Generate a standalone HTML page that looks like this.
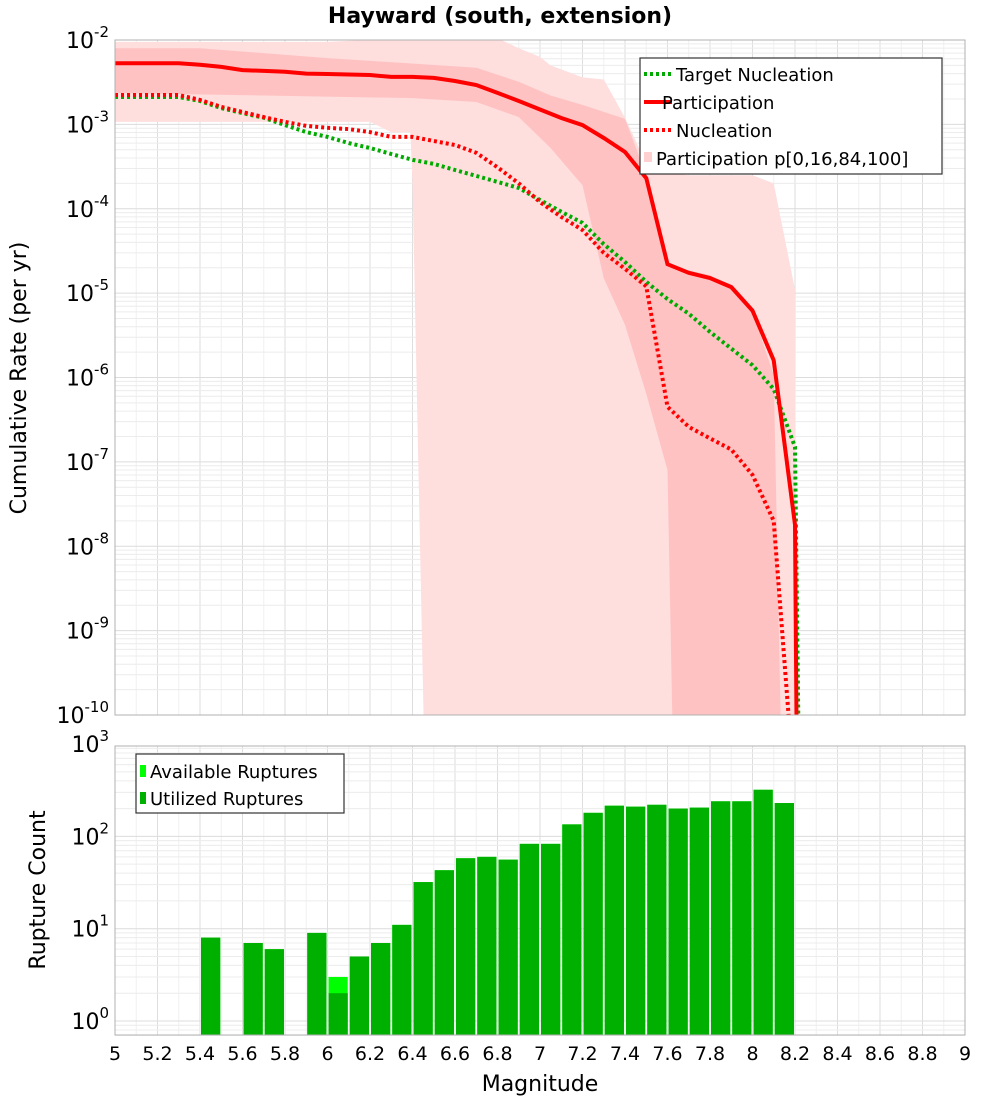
<!DOCTYPE html>
<html><head><meta charset="utf-8"><style>
body{margin:0;background:#fff;}
svg{display:block;font-family:"DejaVu Sans","Liberation Sans",sans-serif;}
</style></head><body>
<svg id="c" width="1000" height="1100" viewBox="0 0 1000 1100"></svg>
<script>
// ---- data ----
const mags = [5.0,5.1,5.2,5.3,5.4,5.5,5.6,5.7,5.8,5.9,6.0,6.1,6.2,6.3,6.4,6.5,6.6,6.7,6.8,6.9,7.0,7.1,7.2,7.3,7.4,7.5,7.6,7.7,7.8,7.9,8.0,8.1,8.2,8.21];
const participation = [5.3e-3,5.3e-3,5.3e-3,5.3e-3,5.1e-3,4.8e-3,4.4e-3,4.3e-3,4.2e-3,4.0e-3,3.95e-3,3.9e-3,3.85e-3,3.65e-3,3.65e-3,3.55e-3,3.27e-3,2.93e-3,2.36e-3,1.89e-3,1.5e-3,1.19e-3,9.8e-4,6.9e-4,4.7e-4,2.3e-4,2.2e-5,1.74e-5,1.51e-5,1.18e-5,6.2e-6,1.6e-6,1.8e-8,1e-11];
const nucMags = [5.0,5.1,5.2,5.3,5.4,5.5,5.6,5.7,5.8,5.9,6.0,6.1,6.2,6.3,6.4,6.5,6.6,6.7,6.8,6.9,7.0,7.1,7.2,7.3,7.4,7.5,7.6,7.7,7.8,7.9,8.0,8.1,8.2];
const nucleation = [2.23e-3,2.23e-3,2.23e-3,2.23e-3,1.95e-3,1.61e-3,1.4e-3,1.22e-3,1.07e-3,9.6e-4,9.1e-4,8.8e-4,8.1e-4,7.1e-4,7.1e-4,6.35e-4,5.7e-4,4.6e-4,3.1e-4,2.0e-4,1.2e-4,8.0e-5,5.6e-5,3.0e-5,1.94e-5,1.2e-5,4.5e-7,2.6e-7,1.9e-7,1.4e-7,7e-8,2e-8,1e-11];
const targetMags = [5.0,5.1,5.2,5.3,5.4,5.5,5.6,5.7,5.8,5.9,6.0,6.1,6.2,6.3,6.4,6.5,6.6,6.7,6.8,6.9,7.0,7.1,7.2,7.3,7.4,7.5,7.6,7.7,7.8,7.9,8.0,8.1,8.2,8.22];
const targetNuc = [2.11e-3,2.11e-3,2.11e-3,2.11e-3,1.89e-3,1.56e-3,1.36e-3,1.2e-3,9.8e-4,8.1e-4,7.1e-4,6.0e-4,5.25e-4,4.46e-4,3.8e-4,3.4e-4,2.88e-4,2.45e-4,2.08e-4,1.76e-4,1.27e-4,9.2e-5,6.8e-5,3.8e-5,2.34e-5,1.36e-5,8.5e-6,5.7e-6,3.47e-6,2.2e-6,1.4e-6,7.3e-7,1.5e-7,1e-11];
const outerMags = [5.0,6.0,6.5,6.8,6.9,7.0,7.05,7.2,7.3,7.4,7.5,7.6,7.7,8.0,8.1,8.2,8.21];
const outerUpper = [9.5e-3,9.5e-3,1.1e-2,1.05e-2,8e-3,6.3e-3,5e-3,3.6e-3,3.4e-3,1.2e-3,3.4e-4,2.7e-4,2.5e-4,2.5e-4,2.0e-4,1.1e-5,1e-11];
const outerLowMags = [5.0,6.2,6.3,6.39,6.4,6.46,8.21];
const outerLower = [1.07e-3,1.07e-3,8.1e-4,8.1e-4,2e-4,1e-11,1e-11];
const innerMags = [5.0,5.4,6.0,6.7,6.9,7.05,7.2,7.4,7.5,7.6,7.8,7.9,8.0,8.1,8.14];
const innerUpper = [8e-3,8e-3,6.1e-3,4.7e-3,3.2e-3,2.2e-3,1.7e-3,1.16e-3,2.5e-4,2.1e-5,1.64e-5,1.12e-5,6e-6,1.07e-6,1e-11];
const innerLowMags = [5.0,5.7,6.4,6.7,6.9,7.05,7.2,7.3,7.4,7.5,7.6,7.63,8.14];
const innerLower = [2.36e-3,2.2e-3,2.05e-3,1.84e-3,1.22e-3,5.25e-4,1.9e-4,1.5e-5,4.2e-6,6.4e-7,8e-8,1e-11,1e-11];
const binCenters = [5.45,5.65,5.75,5.95,6.05,6.15,6.25,6.35,6.45,6.55,6.65,6.75,6.85,6.95,7.05,7.15,7.25,7.35,7.45,7.55,7.65,7.75,7.85,7.95,8.05,8.15];
const utilized = [8,7,6,9,2,5,7,11,32,43,58,60,56,83,83,135,180,215,210,220,200,205,240,240,320,230];
const available = [8,7,6,9,3,5,7,11,32,43,58,60,56,83,83,135,180,215,210,220,200,205,240,240,320,230];
const xTicks = [5,5.2,5.4,5.6,5.8,6,6.2,6.4,6.6,6.8,7,7.2,7.4,7.6,7.8,8,8.2,8.4,8.6,8.8,9];
const topExps = [-2,-3,-4,-5,-6,-7,-8,-9,-10];
const botExps = [0,1,2,3];

// ---- layout ----
const NS="http://www.w3.org/2000/svg";
const svg=document.getElementById('c');
const L=115,R=965,T1=40,B1=715,T2=746,B2=1035;
const X=m=>L+(m-5)*(R-L)/4;
const Y1=v=>T1+(-2-Math.log10(v))*(B1-T1)/8;
const Y2=v=>1021-Math.log10(v)*92.3;
function el(tag,attrs,parent){const e=document.createElementNS(NS,tag);for(const k in attrs)e.setAttribute(k,attrs[k]);(parent||svg).appendChild(e);return e;}

const defs=el('defs',{});
const cp1=el('clipPath',{id:'cp1'},defs);el('rect',{x:L,y:T1,width:R-L,height:B1-T1},cp1);
const cp2=el('clipPath',{id:'cp2'},defs);el('rect',{x:L,y:T2,width:R-L,height:B2-T2},cp2);

// title
const title=el('text',{x:500,y:23,'text-anchor':'middle','font-size':22,'font-weight':'bold'});
title.textContent='Hayward (south, extension)';



function grid(top,bottom,Yf,exps,name){
  const g=el('g',{stroke:'#e4e4e4','stroke-width':1});
  
  
  for(let m=5;m<=9.001;m+=0.1){el('line',{x1:X(m),x2:X(m),y1:top,y2:bottom,stroke:Math.abs(m*5-Math.round(m*5))<1e-6?'#dedede':'#f0f0f0'},g);}
  for(let i=0;i<exps.length;i++){for(let k=1;k<10;k++){const v=k*Math.pow(10,exps[i]);const y=Yf(v);if(y<top-0.5||y>bottom+0.5)continue;el('line',{x1:L,x2:R,y1:y,y2:y,stroke:k==1?'#dcdcdc':'#ececec'},g);}}
}
grid(T1,B1,Y1,[-11,-10,-9,-8,-7,-6,-5,-4,-3,-2],'top-grid');
grid(T2,B2,Y2,[-1,0,1,2,3],'bottom-grid');

function pathFrom(ms,vs,Yf){return ms.map((m,i)=>(i?'L':'M')+X(m).toFixed(1)+','+Yf(vs[i]).toFixed(1)).join(' ');}
function band(mU,vU,mL,vL,fill,name){
  let d=pathFrom(mU,vU,Y1);
  for(let i=mL.length-1;i>=0;i--)d+=' L'+X(mL[i]).toFixed(1)+','+Y1(vL[i]).toFixed(1);
  const p=el('path',{d:d+' Z',fill:fill,'clip-path':'url(#cp1)'});
  
  
}
band(outerMags,outerUpper,outerLowMags,outerLower,'#ffdede','participation-band-0-100');
band(innerMags,innerUpper,innerLowMags,innerLower,'#ffc2c2','participation-band-16-84');

function line(ms,vs,color,dash,w,name){
  const p=el('path',{d:pathFrom(ms,vs,Y1),fill:'none',stroke:color,'stroke-width':w,'clip-path':'url(#cp1)'});
  if(dash)p.setAttribute('stroke-dasharray',dash);
  
  
}
line(targetMags,targetNuc,'#00aa00','3,3',4,'target-nucleation-line');
line(nucMags,nucleation,'#ff0000','3,3',4,'nucleation-line');
line(mags,participation,'#ff0000',null,4,'participation-line');

// bars
const bg=el('g',{'clip-path':'url(#cp2)'});


const bw=(R-L)/40;
for(let i=0;i<binCenters.length;i++){
  const x0=X(binCenters[i])-bw/2+1;
  const ya=Y2(available[i]);
  const a=el('rect',{x:x0,y:ya,width:bw-2,height:B2-ya,fill:'#00ff00'},bg);
  
  
  const yu=Y2(utilized[i]);
  const u=el('rect',{x:x0,y:yu,width:bw-2,height:B2-yu,fill:'#00b000'},bg);
  
  
}

// frames
for(const [t,b,n] of [[T1,B1,'top-plot-frame'],[T2,B2,'bottom-plot-frame']]){
  const f=el('rect',{x:L,y:t,width:R-L,height:b-t,fill:'none',stroke:'#b0b0b0','stroke-width':1});
  
  
}

// y tick labels
function yLabels(exps,Yf,name){
  const g=el('g',{'font-size':22,'text-anchor':'end'});
  
  
  exps.forEach(e=>{
    const t=el('text',{x:L-6,y:Yf(Math.pow(10,e))+8},g);
    const s1=el('tspan',{},t);s1.textContent='10';
    const s2=el('tspan',{dy:-11,'font-size':15},t);s2.textContent=String(e);
  });
}
yLabels(topExps,Y1,'top-y-tick-labels');
yLabels(botExps,Y2,'bottom-y-tick-labels');

// x tick labels
const xg=el('g',{'font-size':19,'text-anchor':'middle'});


xTicks.forEach(m=>{const t=el('text',{x:X(m),y:1060},xg);t.textContent=String(m);});

const xt=el('text',{x:540,y:1091,'font-size':22,'text-anchor':'middle'});xt.textContent='Magnitude';


const yt1=el('text',{x:26,y:378,'font-size':22,'text-anchor':'middle',transform:'rotate(-90 26 378)'});yt1.textContent='Cumulative Rate (per yr)';


const yt2=el('text',{x:45,y:890,'font-size':22,'text-anchor':'middle',transform:'rotate(-90 45 890)'});yt2.textContent='Rupture Count';



// legends
const lg=el('g',{});


el('rect',{x:640,y:58,width:302,height:116,fill:'#fff',stroke:'#333','stroke-width':1.2},lg);
const items=[['Target Nucleation','#00aa00',true,81],['Participation','#ff0000',false,109],[' Nucleation','#ff0000',true,137],['Participation p[0,16,84,100]','#ffd0d0',null,165]];
items.forEach(([txt,c,d,y])=>{
  const ent=el('g',{},lg);
  
  
  if(d===null){el('rect',{x:644,y:y-13,width:8,height:10,fill:c},ent);}
  else{const l=el('line',{x1:644,x2:672,y1:y-7,y2:y-7,stroke:c,'stroke-width':4},ent);if(d)l.setAttribute('stroke-dasharray','3,3');}
  const t=el('text',{x:d===null?656:(d?676:662),y:y,'font-size':18},ent);t.textContent=txt;
});
const lg2=el('g',{});


el('rect',{x:136,y:754,width:208,height:59,fill:'#fff',stroke:'#333','stroke-width':1.2},lg2);
[['Available Ruptures','#00ff00',778],['Utilized Ruptures','#00b000',805]].forEach(([txt,c,y])=>{
  const ent=el('g',{},lg2);
  
  
  el('rect',{x:140,y:y-13,width:6,height:12,fill:c},ent);
  const t=el('text',{x:150,y:y,'font-size':18},ent);t.textContent=txt;
});
</script>
</body></html>
